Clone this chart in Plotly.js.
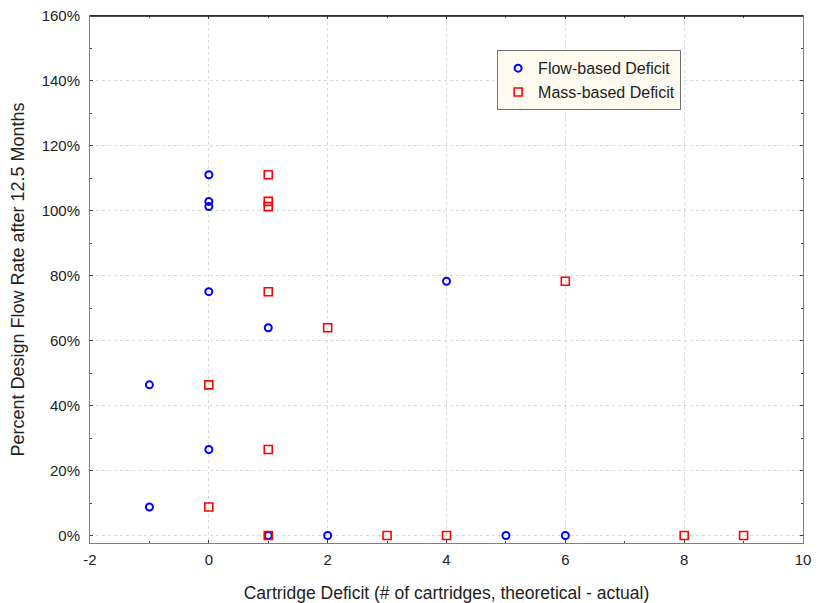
<!DOCTYPE html>
<html>
<head>
<meta charset="utf-8">
<script src="https://cdn.plot.ly/plotly-3.0.1.min.js"></script>
<style>html,body{margin:0;padding:0;background:#fff;}#chart{width:825px;height:603px;}</style>
</head>
<body>
<div id="chart"></div>
<script>
// Flow-based deficit
const flowX = [-1, -1, 0, 0, 0, 0, 0, 1, 1, 2, 4, 5, 6];
const flowY = [46.4, 8.8, 111.1, 102.9, 101.3, 75.1, 26.5, 64.0, 0, 0, 78.3, 0, 0];
// Mass-based deficit
const massX = [0, 0, 1, 1, 1, 1, 1, 1, 2, 3, 4, 6, 8, 9];
const massY = [46.4, 8.8, 111.1, 102.9, 101.3, 75.1, 26.5, 0, 64.0, 0, 0, 78.3, 0, 0];
const seriesNames = ['Flow-based Deficit', 'Mass-based Deficit'];
const xTickVals = [-2, 0, 2, 4, 6, 8, 10];
const xTickText = ['-2', '0', '2', '4', '6', '8', '10'];
const xTitle = 'Cartridge Deficit (# of cartridges, theoretical - actual)';
const yTitle = 'Percent Design Flow Rate after 12.5 Months';

const fam = 'Liberation Sans, Arial, sans-serif';
const tickFont = {family: fam, size: 15, color: '#222'};
const xTitleFont = {family: fam, size: 17.5, color: '#222'};
const yTitleFont = {family: fam, size: 18, color: '#222'};

const traces = [
  {x: flowX, y: flowY, name: seriesNames[0], type: 'scatter', mode: 'markers', cliponaxis: false,
   marker: {symbol: 'circle-open', size: 7, color: '#0000ff', line: {width: 2, color: '#0000ff'}}},
  {x: massX, y: massY, name: seriesNames[1], type: 'scatter', mode: 'markers', cliponaxis: false,
   marker: {symbol: 'square-open', size: 8, color: '#ff0000', line: {width: 1.6, color: '#ff0000'}}}
];

const axisCommon = {
  showline: true, linecolor: '#808080', linewidth: 1, mirror: 'allticks',
  ticks: 'inside', ticklen: 3, tickcolor: '#444', tickwidth: 1,
  showgrid: true, gridcolor: '#d8d8d8', griddash: 'dot', gridwidth: 1,
  zeroline: false, tickfont: tickFont
};

const layout = {
  width: 825, height: 603,
  margin: {l: 90, r: 22, t: 16, b: 60},
  paper_bgcolor: '#fff', plot_bgcolor: '#fff',
  font: tickFont,
  showlegend: true,
  legend: {x: 0.571, y: 0.935, xanchor: 'left', yanchor: 'top',
    bgcolor: '#fffaf0', bordercolor: '#707070', borderwidth: 1,
    font: {family: fam, size: 16, color: '#222'}, itemwidth: 30,
    tracegroupgap: 0},
  xaxis: Object.assign({}, axisCommon, {
    range: [-2, 10], tickmode: 'array', tickvals: xTickVals, ticktext: xTickText,
    ticklabelstandoff: 3,
    minor: {dtick: 1, ticks: 'inside', ticklen: 2, tickcolor: '#444', showgrid: false},
    title: {text: xTitle, font: xTitleFont, standoff: 19}
  }),
  yaxis: Object.assign({}, axisCommon, {
    range: [-2.3, 160], dtick: 20, tick0: 0, ticksuffix: '%',
    ticklabelstandoff: 6,
    minor: {dtick: 10, ticks: 'inside', ticklen: 2, tickcolor: '#444', showgrid: false},
    title: {text: yTitle, font: yTitleFont, standoff: 12}
  }),
  shapes: [
    {type: 'line', xref: 'paper', yref: 'paper', x0: 0, x1: 1, y0: 1, y1: 1,
     line: {color: '#111', width: 1.5}}
  ]
};

Plotly.newPlot('chart', traces, layout, {displayModeBar: false, staticPlot: true});
</script>
</body>
</html>
